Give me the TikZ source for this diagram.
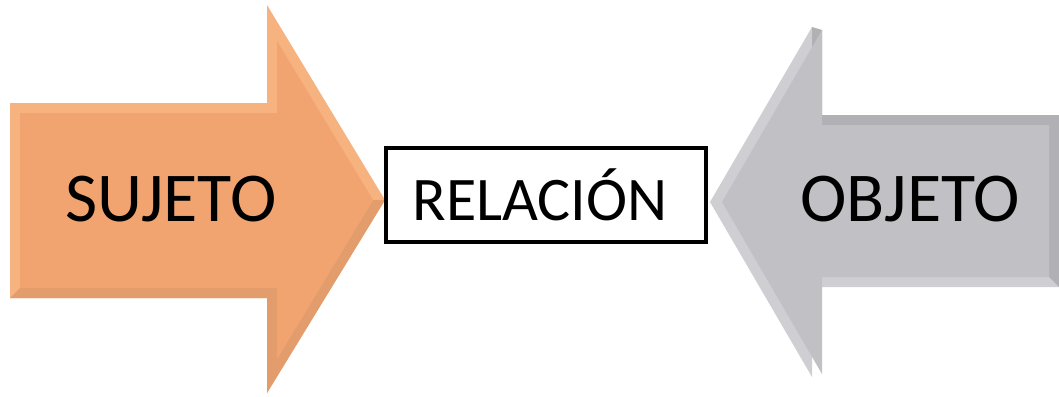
\documentclass[tikz,border=0pt]{standalone}
\usepackage{fontspec}
\setmainfont{Carlito}
\definecolor{orangemain}{HTML}{F2A470}
\definecolor{orangebevel}{HTML}{F6B27F}
\definecolor{orangeshade}{HTML}{E39C6C}
\definecolor{graymain}{HTML}{C1C0C5}
\definecolor{graybevel}{HTML}{CFCFD3}
\definecolor{grayshade}{HTML}{B0B0B5}
\begin{document}
\begin{tikzpicture}[x=1pt,y=-1pt,
  lbl/.style={font=\fontsize{70}{84}\selectfont, anchor=base, inner sep=0pt},
  relbox/.style={draw=black, line width=3.5pt, fill=white, minimum width=320pt, minimum height=94pt, inner sep=0pt}]
\useasboundingbox (0,0) rectangle (1059,396);
% orange arrow (subtle bevel)
\fill[orangebevel] (10,103) -- (267,103) -- (267,5) -- (385,200) -- (267,393) -- (267,298) -- (10,298) -- cycle;
\fill[orangeshade] (10,298) -- (267,298) -- (267,393) -- (385,200) -- (373,200) -- (277,359) -- (277,288) -- (20,288) -- cycle;
\fill[orangemain] (20,113) -- (277,113) -- (277,41) -- (373,200) -- (277,359) -- (277,288) -- (20,288) -- cycle;
% gray arrow
\fill[graybevel] (1059,115) -- (812,115) -- (812,27) -- (710,202) -- (812,377) -- (812,287) -- (1059,287) -- cycle;
\fill[grayshade] (1059,115) -- (812,115) -- (812,27) -- (822,30) -- (822,125) -- (1049,125) -- (1049,277) -- (1059,287) -- cycle;
\fill[graymain] (1049,125) -- (822,125) -- (822,30) -- (722,202) -- (822,374) -- (822,277) -- (1049,277) -- cycle;
% texts
\node[lbl] (sujeto) at (171,221) {SUJETO};
\node[lbl] (objeto) at (910,221) {OBJETO};
\node[relbox] (relbox) at (546,195) {};
\node[lbl, font=\fontsize{62}{74}\selectfont] (relacion) at (540,220) {RELACIÓN};
\end{tikzpicture}
\end{document}
